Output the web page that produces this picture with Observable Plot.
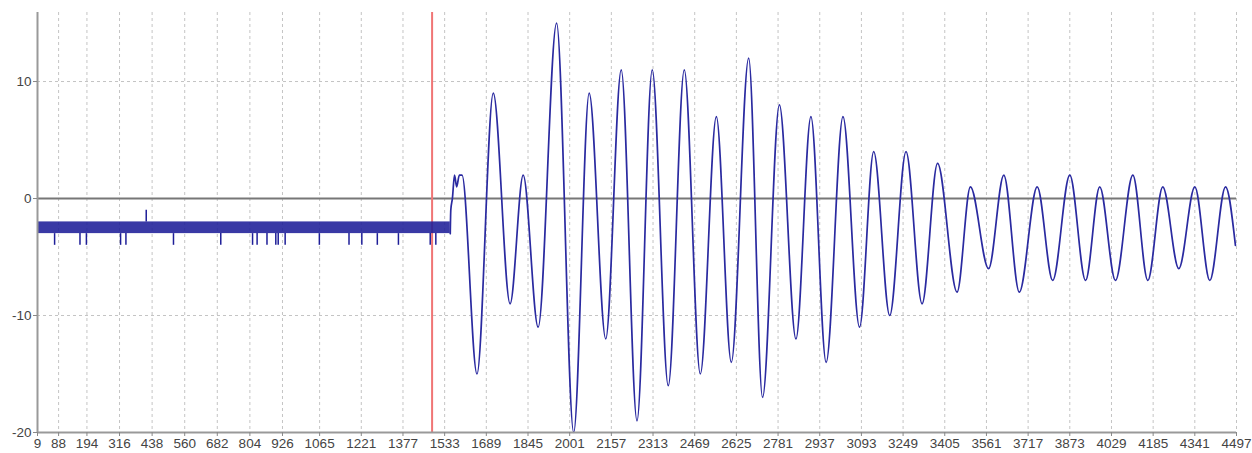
<!DOCTYPE html>
<html><head><meta charset="utf-8">
<script src="https://cdn.jsdelivr.net/npm/d3@7"></script>
<script src="https://cdn.jsdelivr.net/npm/@observablehq/plot@0.6"></script>
<style>body{margin:0;background:#fff} svg{display:block}</style>
</head><body><div id="chart"></div>
<script>
// ---- data ----
const xTicks = [9,88,194,316,438,560,682,804,926,1065,1221,1377,1533,1689,1845,2001,2157,2313,2469,2625,2781,2937,3093,3249,3405,3561,3717,3873,4029,4185,4341,4497];
const yTicks = [-20,-10,0,10];
const yGrid = [-10,10];
const xDomain = [9,4497];
const yDomain = [-20,15.9];

// idle segment: signal toggles between -3 and -2
const idleStart = 9, idleEnd = 1554;
const idleLow = -3, idleHigh = -2;
// isolated dips to -4 during idle
const dipX = [73,168,192,320,340,518,695,814,831,868,901,910,936,1064,1175,1223,1281,1360,1479,1500];
const dipValue = -4;
// isolated blip to -1
const blipX = [416];
const blipValue = -1;

// trigger marker
const markerX = [1486];

// oscillation (turning points)
const waveX = [1554,1556,1562,1570,1578,1588,1598,1654,1715,1778,1827,1883,1952,2016,2074,2136,2194,2253,2310,2370,2430,2490,2550,2606,2671,2723,2786,2848,2904,2961,3024,3086,3139,3199,3260,3320,3378,3451,3501,3569,3626,3684,3751,3809,3873,3932,3985,4044,4109,4165,4221,4281,4341,4397,4456,4493];
const waveY = [-3,-1,0,2,1,2,2,-15,9,-9,2,-11,15,-20,9,-12,11,-19,11,-16,11,-15,7,-14,12,-17,8,-12,7,-14,7,-11,4,-10,4,-9,3,-8,1,-6,2,-8,1,-7,2,-7,1,-7,2,-7,1,-6,1,-7,1,-4];

const wave = waveX.map((x,i)=>({x, y: waveY[i]}));

const font = "Liberation Sans, Arial, sans-serif";
const chart = Plot.plot({
  width: 1252,
  height: 453,
  marginLeft: 37,
  marginRight: 16,
  marginTop: 12,
  marginBottom: 21,
  style: {fontFamily: font, fontSize: "13px", color: "#444", background: "#fff"},
  x: {domain: xDomain, axis: null},
  y: {domain: yDomain, axis: null},
  marks: [
    Plot.gridX(xTicks, {stroke: "#c4c4c4", strokeOpacity: 1, strokeDasharray: "3,3", strokeWidth: 1}),
    Plot.gridY(yGrid, {stroke: "#c4c4c4", strokeOpacity: 1, strokeDasharray: "3,3", strokeWidth: 1}),
    Plot.ruleY([0], {stroke: "#777", strokeWidth: 2}),
    Plot.ruleX(markerX, {stroke: "#f07575", strokeWidth: 2}),
    Plot.rect([{x1: idleStart, x2: idleEnd, y1: idleLow, y2: idleHigh}], {x1: "x1", x2: "x2", y1: "y1", y2: "y2", fill: "#1e1e98", fillOpacity: 0.88}),
    Plot.ruleX(dipX, {x: d => d, y1: idleLow, y2: dipValue, stroke: "#1e1e98", strokeWidth: 1.5}),
    Plot.ruleX(blipX, {x: d => d, y1: idleHigh, y2: blipValue, stroke: "#1e1e98", strokeWidth: 1.5}),
    Plot.line(wave, {x: "x", y: "y", curve: "monotone-x", stroke: "#2a2aa0", strokeWidth: 1.7}),
    Plot.ruleY([-20], {stroke: "#999", strokeWidth: 2}),
    Plot.ruleX([xDomain[0]], {stroke: "#999", strokeWidth: 2}),
    Plot.axisX(xTicks, {tickSize: 4, tickPadding: 2, tickFormat: d => String(d), stroke: "#888", fill: "#444", fontSize: 13.5}),
    Plot.axisY(yTicks, {tickSize: 4, tickPadding: 2, tickFormat: d => String(d), stroke: "#888", fill: "#444", fontSize: 13.5})
  ]
});
document.getElementById("chart").appendChild(chart);
</script>
</body></html>
